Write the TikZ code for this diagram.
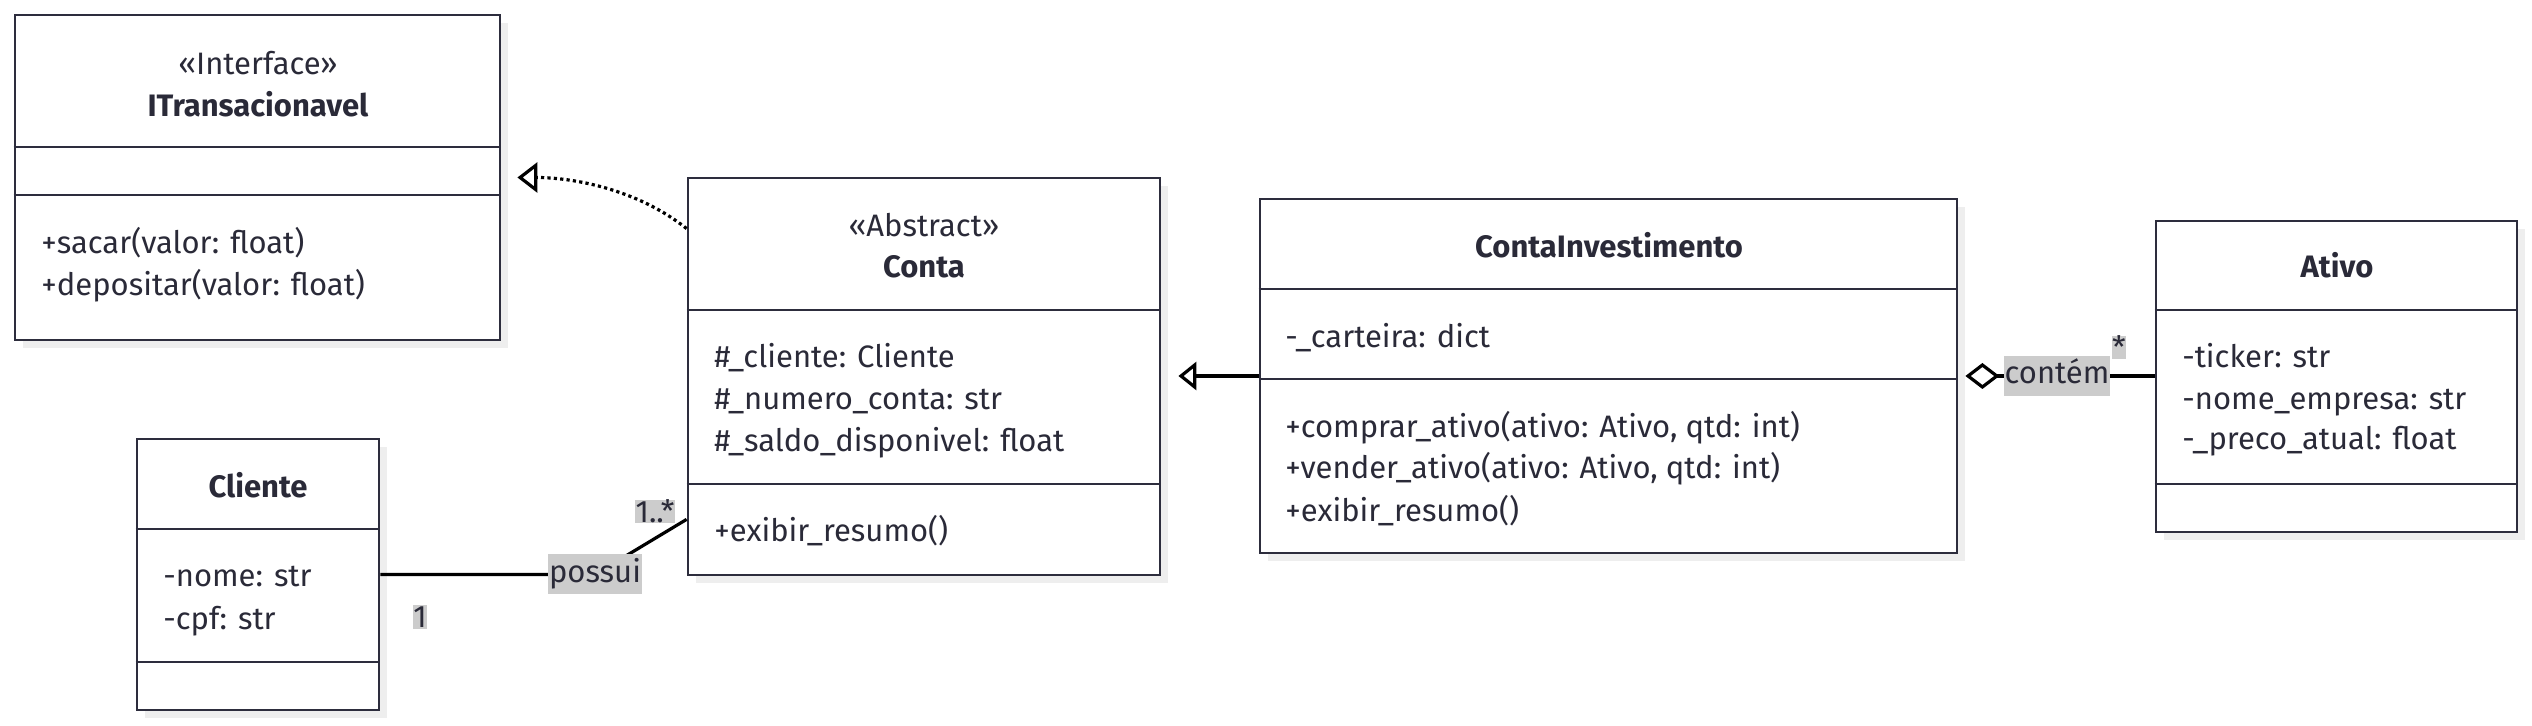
\documentclass[tikz,border=0pt]{standalone}
\usepackage{fontspec}
\setmainfont{Fira Sans}
\usetikzlibrary{arrows.meta}
\definecolor{boxline}{HTML}{2D2D3D}
\definecolor{txt}{HTML}{2A2A38}
\definecolor{lblfill}{HTML}{CCCCCC}
\definecolor{shadowc}{HTML}{EEEEEE}
\begin{document}
\begin{tikzpicture}[x=0.5pt,y=-0.5pt,
  every node/.style={font=\fontsize{15.5}{18}\selectfont, text=txt},
  classbox/.style={draw=boxline, line width=1.4pt, fill=white, inner sep=0pt},
  shadowbox/.style={fill=shadowc},
  divider/.style={draw=boxline, line width=1.4pt},
  member/.style={anchor=base west, inner sep=0pt},
  title/.style={anchor=base, inner sep=0pt, font=\fontsize{15.5}{18}\selectfont\bfseries},
  stereo/.style={anchor=base, inner sep=0pt},
  conn/.style={draw=black, line width=1.6pt},
  realize/.style={conn, dash pattern=on 1.6pt off 1.6pt, -{Triangle[open, length=10pt, width=15pt, line width=1.6pt]}, shorten >=8pt},
  generalize/.style={conn, -{Triangle[open, length=9pt, width=14pt, line width=1.6pt]}, shorten >=8.5pt},
  aggregate/.style={conn, {Diamond[open, length=17pt, width=13pt, line width=1.6pt]}-, shorten <=3.5pt},
  lbl/.style={fill=lblfill, inner xsep=0.5pt, inner ysep=2.5pt, text height=11.5pt, text depth=3.5pt},
  mult/.style={fill=lblfill, inner xsep=0.3pt, inner ysep=0.5pt, text height=10.5pt, text depth=0pt}
]
\useasboundingbox (0,0) rectangle (2532,726);

% ---------- shadows ----------
\fill[shadowbox] (23,23) rectangle (508,348);
\fill[shadowbox] (696,186) rectangle (1168,583);
\fill[shadowbox] (145,447) rectangle (387,718);
\fill[shadowbox] (1268,207) rectangle (1965,561);
\fill[shadowbox] (2164,229) rectangle (2525,540);

% ---------- ITransacionavel ----------
\node[classbox, minimum width=242.5pt, minimum height=162.5pt] (itrans) at (257.5,177.5) {};
\draw[divider] (itrans.west |- 0,147) -- (itrans.east |- 0,147);
\draw[divider] (itrans.west |- 0,195) -- (itrans.east |- 0,195);
\node[stereo] (itransst) at (258,75) {«Interface»};
\node[title] (itranst) at (258,117) {ITransacionavel};
\node[member] (itm1) at (41,254) {+sacar(valor: float)};
\node[member] (itm2) at (41,296) {+depositar(valor: float)};

% ---------- Conta ----------
\node[classbox, minimum width=236pt, minimum height=198.5pt] (conta) at (924,376.5) {};
\draw[divider] (conta.west |- 0,310) -- (conta.east |- 0,310);
\draw[divider] (conta.west |- 0,484) -- (conta.east |- 0,484);
\node[stereo] (contast) at (924,237) {«Abstract»};
\node[title] (contat) at (924,278) {Conta};
\node[member] (ca1) at (714,368) {\#\_cliente: Cliente};
\node[member] (ca2) at (714,410) {\#\_numero\_conta: str};
\node[member] (ca3) at (714,452) {\#\_saldo\_disponivel: float};
\node[member] (cm1) at (714,542) {+exibir\_resumo()};

% ---------- Cliente ----------
\node[classbox, minimum width=121pt, minimum height=135.5pt] (cliente) at (258,574.5) {};
\draw[divider] (cliente.west |- 0,529) -- (cliente.east |- 0,529);
\draw[divider] (cliente.west |- 0,662) -- (cliente.east |- 0,662);
\node[title] (clientet) at (258,498) {Cliente};
\node[member] (cl1) at (163,587) {-nome: str};
\node[member] (cl2) at (163,630) {-cpf: str};

% ---------- ContaInvestimento ----------
\node[classbox, minimum width=348.5pt, minimum height=177pt] (continv) at (1608.5,376) {};
\draw[divider] (continv.west |- 0,289) -- (continv.east |- 0,289);
\draw[divider] (continv.west |- 0,379) -- (continv.east |- 0,379);
\node[title] (continvt) at (1609,258) {ContaInvestimento};
\node[member] (ci1) at (1285,348) {-\_carteira: dict};
\node[member] (cim1) at (1285,438) {+comprar\_ativo(ativo: Ativo, qtd: int)};
\node[member] (cim2) at (1285,479) {+vender\_ativo(ativo: Ativo, qtd: int)};
\node[member] (cim3) at (1285,522) {+exibir\_resumo()};

% ---------- Ativo ----------
\node[classbox, minimum width=180.5pt, minimum height=155.5pt] (ativo) at (2336.5,376.5) {};
\draw[divider] (ativo.west |- 0,310) -- (ativo.east |- 0,310);
\draw[divider] (ativo.west |- 0,484) -- (ativo.east |- 0,484);
\node[title] (ativot) at (2337,278) {Ativo};
\node[member] (at1) at (2182,368) {-ticker: str};
\node[member] (at2) at (2182,410) {-nome\_empresa: str};
\node[member] (at3) at (2182,450) {-\_preco\_atual: float};

% ---------- connectors ----------
% realization Conta ..|> ITransacionavel
\draw[realize] ([yshift=-26pt]conta.north west) .. controls +(-50,-40) and +(70,0) .. (itrans.east);

% generalization ContaInvestimento --|> Conta
\draw[generalize] (continv.west) -- (continv.west -| conta.east);

% association Cliente -- Conta
\coordinate (possuipt) at (595,574.5);
\draw[conn] (cliente.east) -- (possuipt) -- ([yshift=28.5pt]conta.south west);
\node[lbl] (possui) at (possuipt) {possui};
\node[mult] (m1n) at (655,512) {1..*};
\node[mult] (m1) at (420,617) {1};

% aggregation ContaInvestimento o-- Ativo
\draw[aggregate] (continv.east) -- (continv.east -| ativo.west);
\node[lbl] (contem) at (2057,376) {contém};
\node[mult] (mstar) at (2119,348) {*};
\end{tikzpicture}
\end{document}
